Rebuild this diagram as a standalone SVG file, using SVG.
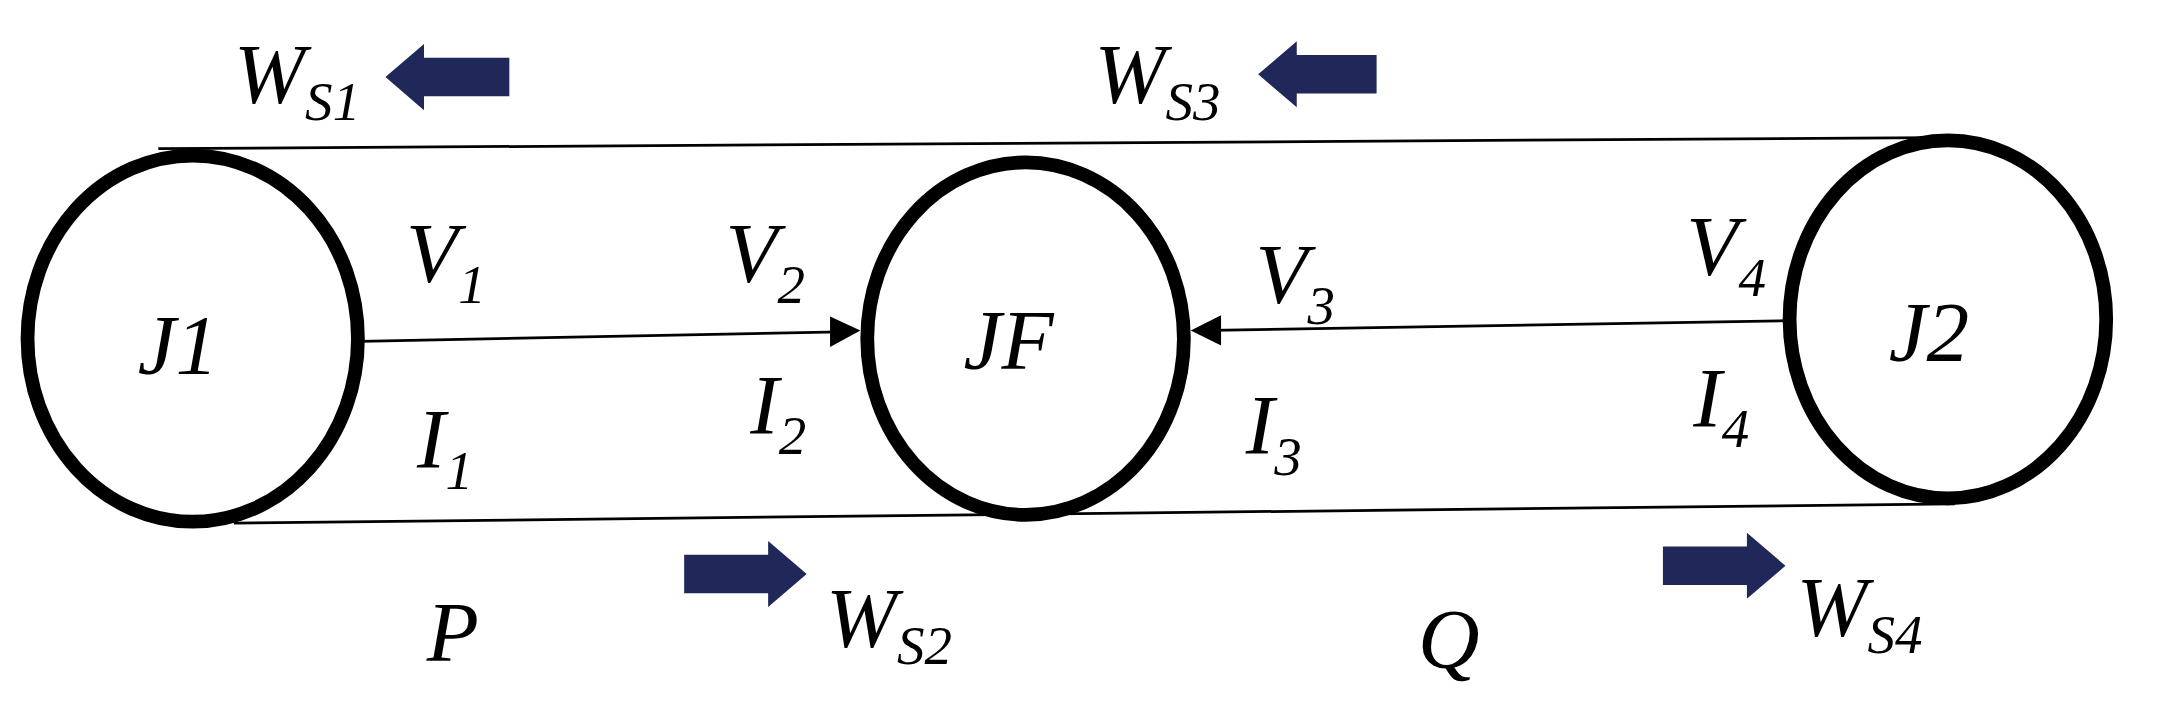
<svg xmlns="http://www.w3.org/2000/svg" width="2157" height="710" viewBox="0 0 2157 710">
<style>
.n{fill:none;stroke:#000;stroke-width:10}
.l{stroke:#000;stroke-width:2;fill:none}
.t{font-family:"Liberation Serif",serif;font-style:italic;font-size:62px;fill:#000}
.s{font-size:40px}
.b{fill:#1f2858}
</style>
<rect width="2157" height="710" fill="#fff"/>
<g transform="scale(1.3766)">
<g id="connectors">
<line class="l" x1="115" y1="108" x2="1405" y2="100"/>
<line class="l" x1="170" y1="380" x2="1420" y2="366"/>
<line class="l" x1="262" y1="248" x2="610" y2="241"/>
<line class="l" x1="1300" y1="233" x2="880" y2="240"/>
<path d="M603,230L625,240L603,252z" fill="#000"/>
<path d="M887,229L865,240L887,251z" fill="#000"/>
</g>
<g id="J1"><ellipse class="n" cx="140" cy="246" rx="120" ry="133"/><text class="t" x="100" y="272">J1</text></g>
<g id="JF"><ellipse class="n" cx="745" cy="246" rx="115" ry="128"/><text class="t" x="700" y="268">JF</text></g>
<g id="J2"><ellipse class="n" cx="1415" cy="232" rx="115" ry="130"/><text class="t" x="1372" y="262">J2</text></g>
<g id="labels">
<text class="t" x="295" y="205">V<tspan class="s" dy="15">1</tspan></text>
<text class="t" x="303" y="340">I<tspan class="s" dy="15">1</tspan></text>
<text class="t" x="527" y="205">V<tspan class="s" dy="15">2</tspan></text>
<text class="t" x="545" y="315">I<tspan class="s" dy="15">2</tspan></text>
<text class="t" x="912" y="220">V<tspan class="s" dy="15">3</tspan></text>
<text class="t" x="905" y="330">I<tspan class="s" dy="15">3</tspan></text>
<text class="t" x="1225" y="200">V<tspan class="s" dy="15">4</tspan></text>
<text class="t" x="1230" y="310">I<tspan class="s" dy="15">4</tspan></text>
<text class="t" x="310" y="480">P</text>
<text class="t" x="1030" y="485">Q</text>
<text class="t" x="170" y="75">W<tspan class="s" dy="12">S1</tspan></text>
<text class="t" x="795" y="75">W<tspan class="s" dy="12">S3</tspan></text>
<text class="t" x="600" y="470">W<tspan class="s" dy="12">S2</tspan></text>
<text class="t" x="1305" y="462">W<tspan class="s" dy="12">S4</tspan></text>
</g>
<g id="arrows">
<path class="b" d="M370,42H308V32L280,56L308,80V70H370z"/>
<path class="b" d="M1000,40H942V30L914,54L942,78V68H1000z"/>
<path class="b" d="M497,403H558V393L586,417L558,441V431H497z"/>
<path class="b" d="M1208,397H1269V387L1297,411L1269,435V425H1208z"/>
</g>
</g>
</svg>
